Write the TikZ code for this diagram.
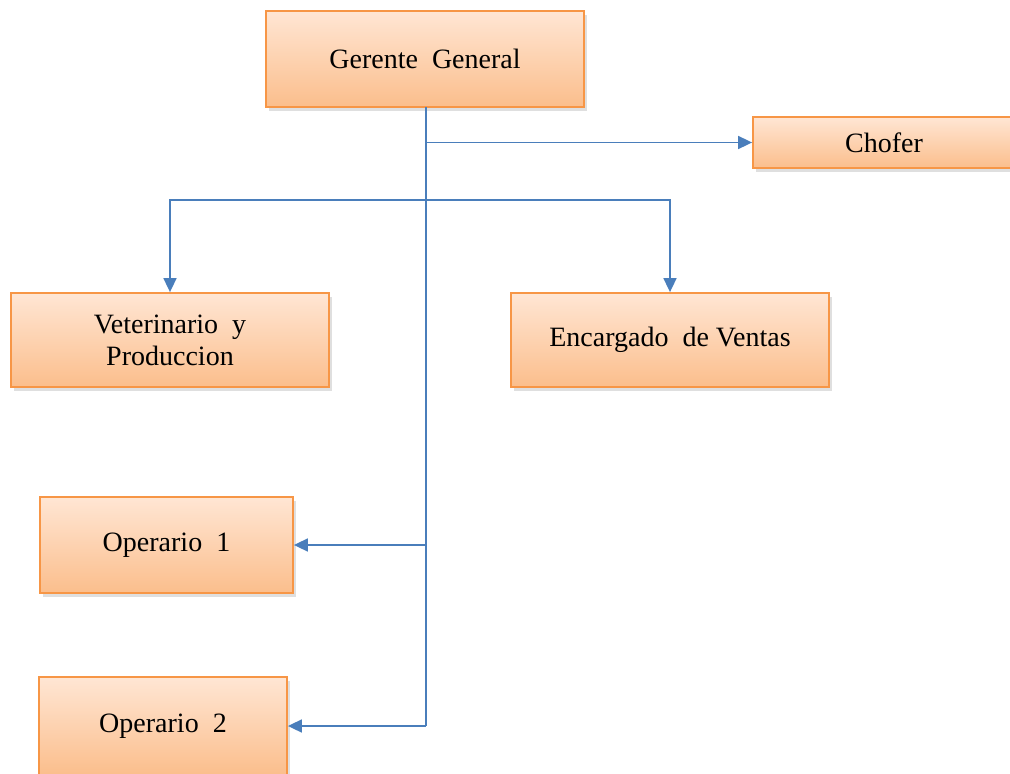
\documentclass[tikz,border=0pt]{standalone}
\usepackage{fontspec}
\setmainfont{Liberation Serif}
\usetikzlibrary{arrows.meta,shadows.blur,shadows}
\definecolor{boxline}{HTML}{F79646}
\definecolor{boxtop}{HTML}{FFE6D4}
\definecolor{boxbot}{HTML}{FBBE8C}
\definecolor{conn}{HTML}{4A7EBB}
\tikzset{
  orgbox/.style={draw=boxline, line width=1.8pt, top color=boxtop, bottom color=boxbot,
    align=center, inner sep=0pt, font=\fontsize{28}{32}\selectfont,
    drop shadow={opacity=0.25, shadow xshift=3pt, shadow yshift=-4pt}},
  conline/.style={draw=conn, line width=1.7pt},
  arr/.style={conline, -{Triangle[length=14pt,width=13pt]}}
}
\begin{document}
\begin{tikzpicture}[x=1pt,y=-1pt]
\useasboundingbox (0,0) rectangle (1010,774);
\node[orgbox, minimum width=318pt, minimum height=96pt] (gg) at (425,59) {Gerente~ General};
\node[orgbox, minimum width=262pt, minimum height=51pt] (chofer) at (884,142.5) {Chofer};
\node[orgbox, minimum width=318pt, minimum height=94pt] (vet) at (170,340) {Veterinario~ y\\Produccion};
\node[orgbox, minimum width=318pt, minimum height=94pt] (enc) at (670,340) {Encargado~ de Ventas};
\node[orgbox, minimum width=253pt, minimum height=96pt] (op1) at (166.5,545) {Operario~ 1};
\node[orgbox, minimum width=248pt, minimum height=98pt] (op2) at (163,726) {Operario~ 2};
\coordinate (j) at (426,200);
\coordinate (t1) at (426,545);
\coordinate (t2) at (426,726);
\draw[conline] (426,107) -- (t2);
\draw[arr] (426,142.5) -- (chofer.west);
\draw[arr] (j) -| (vet.north);
\draw[arr] (j) -| (enc.north);
\draw[arr] (t1) -- (op1.east);
\draw[arr] (t2) -- (op2.east);
\end{tikzpicture}
\end{document}
